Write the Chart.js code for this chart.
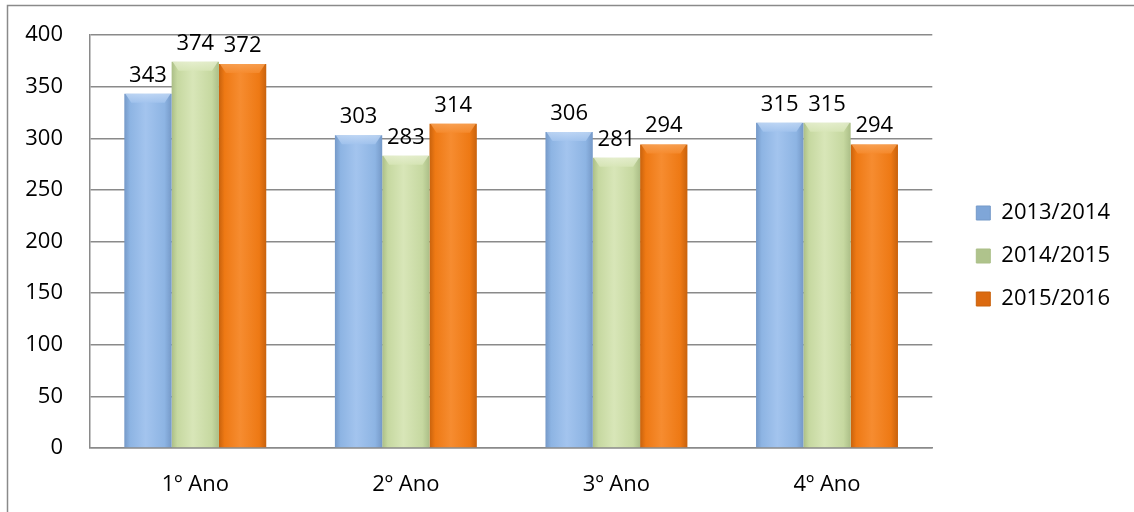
<!DOCTYPE html>
<html>
<head>
<meta charset="utf-8">
<script src="https://cdn.jsdelivr.net/npm/chart.js@4/dist/chart.umd.min.js"></script>
<style>
html,body{margin:0;padding:0;background:#fff;}
#wrap{width:1134px;height:512px;position:relative;}
</style>
</head>
<body>
<div id="wrap"><canvas id="c"></canvas></div>
<script>
const categories = ['1º Ano', '2º Ano', '3º Ano', '4º Ano'];
const seriesNames = ['2013/2014', '2014/2015', '2015/2016'];
const values2013 = [343, 303, 306, 315];
const values2014 = [374, 283, 281, 315];
const values2015 = [372, 314, 294, 294];
const yTicks = [0, 50, 100, 150, 200, 250, 300, 350, 400];

const FONT = '"Open Sans", "Noto Sans", sans-serif';
const CAT_PCT = 0.674;

const palettes = [
  {edge:'#7599C8', base:'#8DB4E3', light:'#A3C4EE', cap:'#C4DAF6', legend:'#7FA6D8'},
  {edge:'#ABBE87', base:'#C6D8A0', light:'#D8E6B8', cap:'#E8F0D2', legend:'#AFC38C'},
  {edge:'#C8620D', base:'#EE7914', light:'#F68C30', cap:'#F9A55A', legend:'#DB6A10'}
];

function barFill(ctx) {
  const p = palettes[ctx.datasetIndex];
  const chart = ctx.chart;
  const xs = chart.scales && chart.scales.x;
  if (!chart.chartArea || !xs || ctx.type !== 'data') return p.base;
  const center = xs.getPixelForValue(ctx.dataIndex);
  const bw = xs.width / categories.length * CAT_PCT / seriesNames.length;
  const left = center + (ctx.datasetIndex - seriesNames.length / 2) * bw;
  if (!isFinite(left)) return p.base;
  const g = chart.ctx.createLinearGradient(left, 0, left + bw, 0);
  g.addColorStop(0, p.edge);
  g.addColorStop(0.12, p.base);
  g.addColorStop(0.45, p.light);
  g.addColorStop(0.85, p.base);
  g.addColorStop(1, p.edge);
  return g;
}

const frame = {
  id: 'frame',
  beforeDraw(chart) {
    const c = chart.ctx;
    c.save();
    c.fillStyle = '#fff';
    c.fillRect(0, 0, chart.width, chart.height);
    c.strokeStyle = '#8a8a8a';
    c.lineWidth = 1.5;
    c.strokeRect(7.5, 5.5, 1300, 700);
    c.restore();
  }
};

const bevelAndLabels = {
  id: 'bevelAndLabels',
  afterDatasetsDraw(chart) {
    const c = chart.ctx;
    c.save();
    chart.data.datasets.forEach((ds, di) => {
      const meta = chart.getDatasetMeta(di);
      const p = palettes[di];
      meta.data.forEach((el, i) => {
        const l = el.x - el.width / 2, r = el.x + el.width / 2, t = el.y;
        const h = 9, inset = 7;
        const g = c.createLinearGradient(0, t, 0, t + h);
        g.addColorStop(0, p.cap);
        g.addColorStop(1, p.light);
        c.fillStyle = g;
        c.globalAlpha = 0.8;
        c.beginPath();
        c.moveTo(l + 1, t);
        c.lineTo(r - 1, t);
        c.lineTo(r - inset, t + h);
        c.lineTo(l + inset, t + h);
        c.closePath();
        c.fill();
        c.globalAlpha = 1;
        c.fillStyle = '#000';
        c.font = '22px ' + FONT;
        c.textAlign = 'center';
        c.textBaseline = 'alphabetic';
        c.fillText(String(ds.data[i]), el.x, t - 12);
      });
    });
    c.restore();
  }
};

new Chart(document.getElementById('c'), {
  type: 'bar',
  data: {
    labels: categories,
    datasets: [
      {label: seriesNames[0], data: values2013, backgroundColor: barFill},
      {label: seriesNames[1], data: values2014, backgroundColor: barFill},
      {label: seriesNames[2], data: values2015, backgroundColor: barFill}
    ]
  },
  options: {
    responsive: true,
    maintainAspectRatio: false,
    animation: false,
    layout: {padding: {top: 0, bottom: 0, left: 0, right: 14}},
    datasets: {bar: {categoryPercentage: CAT_PCT, barPercentage: 1, borderWidth: 0}},
    scales: {
      x: {
        grid: {display: false, drawTicks: false},
        border: {display: true, color: '#8a8a8a', width: 1.5},
        ticks: {color: '#000', font: {family: FONT, size: 22}, padding: 24, maxRotation: 0},
        afterFit(s) { s.height = 64; s.paddingLeft = 0; s.paddingRight = 0; }
      },
      y: {
        min: 0, max: 400,
        afterBuildTicks(s) { s.ticks = yTicks.map(v => ({value: v})); },
        grid: {color: '#8a8a8a', lineWidth: 1.5, drawTicks: false},
        border: {display: true, color: '#8a8a8a', width: 1.5},
        ticks: {color: '#000', font: {family: FONT, size: 22}, padding: 27},
        afterFit(s) { s.width = 90; s.paddingTop = 0; s.paddingBottom = 0; }
      },
      topgap: {
        type: 'linear',
        position: 'top',
        min: 0, max: 1,
        display: true,
        grid: {display: false, drawTicks: false},
        border: {display: false},
        ticks: {display: false},
        afterFit(s) { s.height = 35; }
      },
      gap: {
        type: 'linear',
        position: 'right',
        min: 0, max: 1,
        display: true,
        grid: {display: false, drawTicks: false},
        border: {display: false},
        ticks: {display: false},
        afterFit(s) { s.width = 23; }
      }
    },
    plugins: {
      tooltip: {enabled: false},
      legend: {
        position: 'right',
        labels: {
          color: '#000',
          font: {family: FONT, size: 22},
          boxWidth: 14,
          boxHeight: 14,
          padding: 21,
          generateLabels(chart) {
            return chart.data.datasets.map((ds, i) => ({
              text: ds.label,
              fillStyle: palettes[i].legend,
              strokeStyle: palettes[i].edge,
              lineWidth: 1,
              hidden: false,
              datasetIndex: i
            }));
          }
        }
      }
    }
  },
  plugins: [frame, bevelAndLabels]
});
</script>
</body>
</html>
